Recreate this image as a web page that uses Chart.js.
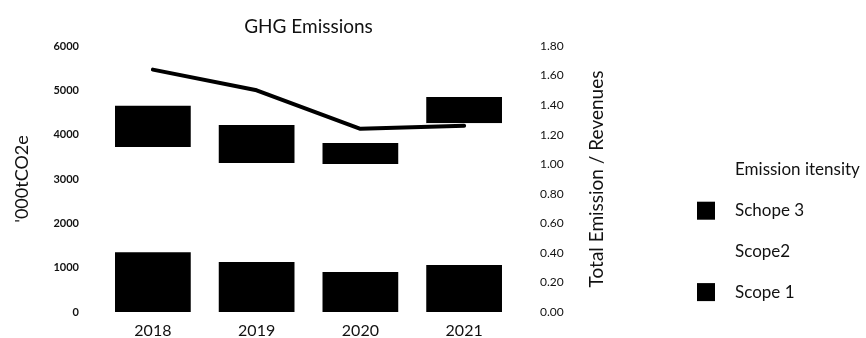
<!DOCTYPE html>
<html>
<head>
<meta charset="utf-8">
<script src="https://cdn.jsdelivr.net/npm/chart.js@4/dist/chart.umd.min.js"></script>
<style>
  body { margin: 0; background: #fff; }
</style>
</head>
<body>
<canvas id="ghg" width="866" height="338"></canvas>
<script>
// values
const years = ['2018', '2019', '2020', '2021'];
const scope1 = [1350, 1130, 900, 1060];
const scope2 = [2370, 2230, 2440, 3200];
const scope3 = [930, 860, 470, 590];
const intensity = [1.64, 1.50, 1.24, 1.26];

Chart.defaults.font.family = 'Lato';
Chart.defaults.color = '#111';

// legend on the right: line first, then the bars top to bottom
const legendOrder = [3, 2, 1, 0];
const sideLegend = {
  id: 'sideLegend',
  afterDraw(chart) {
    const ctx = chart.ctx;
    ctx.save();
    ctx.font = '17px Lato';
    ctx.textBaseline = 'middle';
    ctx.textAlign = 'left';
    legendOrder.forEach((di, i) => {
      const ds = chart.data.datasets[di];
      const y = 170 + i * 40.7;
      if (ds.type !== 'line') {
        ctx.fillStyle = ds.backgroundColor;
        ctx.fillRect(697, y - 9, 18, 18);
      }
      ctx.fillStyle = '#111';
      ctx.fillText(ds.label, 735, y);
    });
    ctx.restore();
  }
};

// right axis title reads bottom to top
const rightTitle = {
  id: 'rightTitle',
  afterDraw(chart) {
    const s = chart.scales.y1;
    const ctx = chart.ctx;
    ctx.save();
    ctx.translate(s.right - 61.5, (s.top + s.bottom) / 2);
    ctx.rotate(-Math.PI / 2);
    ctx.font = '19px Lato';
    ctx.fillStyle = '#111';
    ctx.textAlign = 'center';
    ctx.textBaseline = 'middle';
    ctx.fillText('Total Emission / Revenues', 0, 0);
    ctx.restore();
  }
};

// keep the y axes from reserving tick padding above and below the plot
function fixY(width) {
  return s => {
    s.width = width;
    s.paddingTop = 6;
    s.paddingBottom = 6;
  };
}

new Chart(document.getElementById('ghg').getContext('2d'), {
  type: 'bar',
  data: {
    labels: years,
    datasets: [{
      label: 'Scope 1',
      data: scope1,
      backgroundColor: '#000',
      yAxisID: 'y',
      order: 2
    }, {
      label: 'Scope2',
      data: scope2,
      backgroundColor: '#fff',
      yAxisID: 'y',
      order: 2
    }, {
      label: 'Schope 3',
      data: scope3,
      backgroundColor: '#000',
      yAxisID: 'y',
      order: 2
    }, {
      type: 'line',
      label: 'Emission itensity',
      data: intensity,
      borderColor: '#000',
      backgroundColor: '#000',
      borderWidth: 4,
      borderCapStyle: 'round',
      borderJoinStyle: 'round',
      pointRadius: 0,
      tension: 0,
      yAxisID: 'y1',
      order: 1
    }]
  },
  options: {
    responsive: false,
    animation: false,
    layout: { padding: { left: 0, right: 207.5, top: 0, bottom: 0 } },
    datasets: {
      bar: { categoryPercentage: 1, barPercentage: 0.73 }
    },
    plugins: {
      title: {
        display: true,
        text: 'GHG Emissions',
        fullSize: false,
        font: { size: 19, weight: 'normal' },
        color: '#111',
        padding: { top: 15.6, bottom: 7.6 }
      },
      legend: { display: false },
      tooltip: { enabled: false }
    },
    scales: {
      x: {
        stacked: true,
        grid: { display: false, drawTicks: false },
        border: { display: false },
        ticks: { font: { size: 16, lineHeight: 1 }, padding: 11, color: '#111' },
        afterFit: s => { s.height = 26; }
      },
      y: {
        position: 'left',
        stacked: true,
        min: 0,
        max: 6000,
        grid: { display: false, drawTicks: false },
        border: { display: false },
        ticks: {
          stepSize: 1000,
          font: { size: 11, weight: 'bold' },
          padding: 22,
          color: '#111',
          callback: v => String(v)
        },
        title: {
          display: true,
          text: "'000tCO2e",
          font: { size: 18 },
          color: '#111',
          padding: { top: 11.2, bottom: 10 }
        },
        afterFit: fixY(101)
      },
      y1: {
        position: 'right',
        min: 0,
        max: 1.8,
        grid: { display: false, drawTicks: false },
        border: { display: false },
        ticks: {
          stepSize: 0.2,
          font: { size: 12 },
          padding: 24,
          color: '#111',
          callback: v => v.toFixed(2)
        },
        afterFit: fixY(142.5)
      }
    }
  },
  plugins: [rightTitle, sideLegend]
});
</script>
</body>
</html>
